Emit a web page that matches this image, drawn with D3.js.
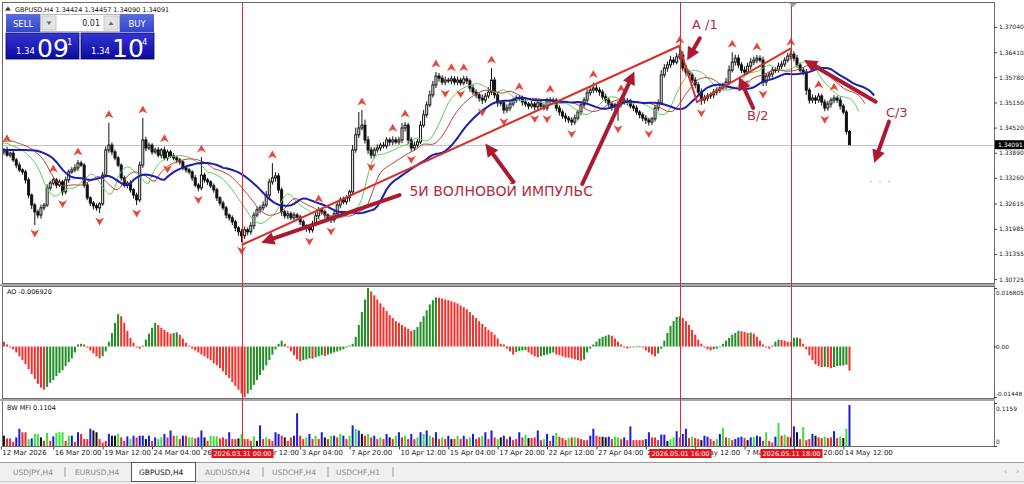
<!DOCTYPE html>
<html>
<head>
<meta charset="utf-8">
<script src="https://cdn.jsdelivr.net/npm/d3@7"></script>
<style>
  html, body { margin: 0; padding: 0; background: #fff; overflow: hidden; }
  svg { display: block; }
  text { font-family: "DejaVu Sans", sans-serif; }
</style>
</head>
<body>
<svg id="chart" width="1024" height="484"></svg>
<script>
(function() {

  // ---- data ----
  var symbol = "GBPUSD,H4";
  var firstOpen = 1.3393;
  var closes = [
    1.3391,1.3396,1.3383,1.3388,1.3371,1.3358,1.3346,1.3341,1.3321,1.3283,
    1.3258,1.3241,1.3233,1.3251,1.3258,1.3301,1.3313,1.3321,1.3308,1.3316,
    1.3291,1.3321,1.3341,1.3346,1.3351,1.3363,1.3358,1.3308,1.3276,1.3263,
    1.3256,1.3251,1.3261,1.3333,1.3396,1.3408,1.3391,1.3376,1.3358,1.3326,
    1.3308,1.3313,1.3296,1.3283,1.3271,1.3358,1.3421,1.3401,1.3408,1.3391,
    1.3396,1.3383,1.3396,1.3376,1.3391,1.3381,1.3376,1.3371,1.3366,1.3351,
    1.3346,1.3341,1.3326,1.3308,1.3301,1.3333,1.3321,1.3316,1.3306,1.3296,
    1.3276,1.3263,1.3251,1.3233,1.3226,1.3216,1.3201,1.3191,1.3181,1.3196,
    1.3191,1.3206,1.3233,1.3246,1.3251,1.3258,1.3283,1.3316,1.3326,1.3331,
    1.3296,1.3241,1.3231,1.3236,1.3226,1.3233,1.3228,1.3216,1.3206,1.3201,
    1.3196,1.3211,1.3231,1.3246,1.3241,1.3233,1.3226,1.3221,1.3236,1.3258,
    1.3271,1.3266,1.3276,1.3291,1.3396,1.3434,1.3451,1.3458,1.3421,1.3396,
    1.3383,1.3396,1.3401,1.3408,1.3406,1.3421,1.3416,1.3421,1.3416,1.3421,
    1.3451,1.3458,1.3421,1.3401,1.3408,1.3416,1.3458,1.3484,1.3509,1.3534,
    1.3559,1.3581,1.3576,1.3566,1.3571,1.3569,1.3574,1.3566,1.3571,1.3564,
    1.3574,1.3569,1.3551,1.3541,1.3534,1.3526,1.3521,1.3531,1.3541,1.3571,
    1.3534,1.3514,1.3514,1.3496,1.3501,1.3511,1.3521,1.3526,1.3526,1.3516,
    1.3511,1.3506,1.3511,1.3504,1.3514,1.3506,1.3501,1.3519,1.3521,1.3521,
    1.3501,1.3491,1.3481,1.3476,1.3471,1.3466,1.3476,1.3491,1.3509,1.3521,
    1.3539,1.3546,1.3551,1.3546,1.3541,1.3529,1.3521,1.3511,1.3504,1.3509,
    1.3511,1.3521,1.3516,1.3519,1.3506,1.3501,1.3491,1.3484,1.3476,1.3471,
    1.3466,1.3474,1.3501,1.3514,1.3584,1.3601,1.3609,1.3621,1.3616,1.3629,
    1.3634,1.3601,1.3591,1.3584,1.3571,1.3559,1.3541,1.3521,1.3526,1.3531,
    1.3534,1.3541,1.3546,1.3551,1.3556,1.3566,1.3596,1.3616,1.3626,1.3609,
    1.3596,1.3591,1.3606,1.3616,1.3621,1.3626,1.3621,1.3566,1.3581,1.3586,
    1.3596,1.3596,1.3606,1.3611,1.3621,1.3631,1.3636,1.3626,1.3609,1.3596,
    1.3591,1.3546,1.3521,1.3526,1.3521,1.3531,1.3516,1.3501,1.3511,1.3521,
    1.3526,1.3521,1.3506,1.3491,1.34424,1.34091
  ];
  // wick lengths in pips above / below the body
  var wickUp = [
    6,5,8,4,6,5,7,4,5,6, 4,5,6,8,5,9,6,7,5,6, 5,8,6,7,9,8,6,5,7,4, 5,6,4,8,9,56,7,6,5,4,
    6,5,7,4,6,9,55,8,7,5, 6,7,5,8,6,5,7,6,5,4, 6,5,4,7,5,45,6,5,4,6, 5,4,6,5,4,6,5,4,7,8,
    6,9,7,8,6,9,10,8,37,9, 7,6,5,8,6,7,5,6,5,4, 6,8,9,7,5,6,4,7,8,9, 7,8,6,5,12,18,40,38,14,9,
    8,7,9,6,8,7,6,9,7,8, 12,8,6,7,9,8,10,12,9,11, 10,10,8,7,9,6,8,7,9,6, 8,7,6,8,7,6,9,8,12,30,
    7,8,6,7,9,8,6,7,8,6, 7,5,8,6,7,9,6,8,7,6, 5,7,6,8,5,7,9,6,8,7, 9,10,14,8,7,6,8,7,6,5,
    7,8,6,7,5,6,7,5,6,7, 6,5,8,9,12,10,9,11,8,10, 17,9,8,7,6,8,7,9,8,7, 6,8,7,9,8,10,12,25,9,8,
    7,9,8,10,9,8,7,9,8,6, 8,7,9,8,7,8,10,7,8,6, 7,8,6,9,7,8,6,7,8,6, 7,6,8,6,5,3.3
  ];
  var wickDn = [
    5,7,4,6,5,8,6,7,9,8, 10,33,8,9,6,5,7,6,8,5, 9,6,7,5,6,8,5,7,6,8, 9,7,13,5,6,7,8,6,5,7,
    6,8,7,9,13,6,7,8,6,7, 5,6,8,6,7,5,6,8,7,6, 7,6,8,5,9,6,7,8,6,7, 8,7,6,9,7,8,9,10,16,8,
    9,7,8,6,9,7,6,8,7,9, 8,10,7,8,6,9,7,8,9,10, 8,7,6,8,7,9,6,8,7,6, 8,6,7,9,6,7,8,6,9,10,
    9,8,7,8,6,7,9,8,6,7, 8,9,10,8,7,6,5,6,7,6, 7,8,9,7,8,6,9,7,8,7, 6,8,9,7,8,9,10,7,6,8,
    9,10,8,9,7,8,6,7,8,9, 7,8,6,9,7,8,6,7,8,7, 8,9,7,10,8,9,7,6,8,7, 6,7,8,6,9,7,8,9,10,12,
    40,8,7,9,6,8,7,9,8,10, 9,8,7,8,6,7,9,8,7,6, 7,8,9,7,8,9,8,12,9,8, 7,9,8,7,6,8,7,6,9,8,
    7,8,6,9,7,8,6,10,9,7, 8,7,6,8,7,6,9,8,7,6, 8,12,9,8,10,7,9,8,7,9, 8,7,9,6,8,0.1
  ];
  var ao = [
    0.0017,0.0014,0.0006,-0.0003,-0.0008,-0.0017,-0.0028,-0.0039,-0.0051,-0.0065,
    -0.0079,-0.0093,-0.0107,-0.0118,-0.0124,-0.0116,-0.0104,-0.0096,-0.0085,-0.0076,
    -0.0068,-0.0056,-0.0045,-0.0034,-0.0017,0.0006,0.0008,0.0006,-0.0003,-0.0011,
    -0.0020,-0.0028,-0.0034,-0.0028,-0.0014,0.0014,0.0039,0.0068,0.0093,0.0087,
    0.0068,0.0045,0.0025,0.0011,-0.0003,-0.0006,0.0003,0.0020,0.0037,0.0054,
    0.0068,0.0062,0.0054,0.0048,0.0042,0.0037,0.0039,0.0041,0.0034,0.0023,
    0.0011,0.0003,-0.0006,-0.0011,-0.0017,-0.0023,-0.0028,-0.0034,-0.0039,-0.0048,
    -0.0054,-0.0062,-0.0071,-0.0082,-0.0090,-0.0102,-0.0113,-0.0124,-0.0135,-0.01448,
    -0.0135,-0.0124,-0.0110,-0.0096,-0.0082,-0.0068,-0.0054,-0.0039,-0.0023,-0.0008,
    0.0008,0.0017,0.0008,-0.0003,-0.0014,-0.0025,-0.0037,-0.0042,-0.0039,-0.0037,
    -0.0034,-0.0035,-0.0031,-0.0028,-0.0025,-0.0027,-0.0023,-0.0020,-0.0017,-0.0014,
    -0.0011,-0.0008,-0.0003,0.0003,0.0008,0.0028,0.0062,0.0099,0.0135,0.016805,
    0.0158,0.0147,0.0135,0.0124,0.0113,0.0102,0.0090,0.0082,0.0073,0.0068,
    0.0062,0.0056,0.0051,0.0045,0.0048,0.0056,0.0071,0.0087,0.0104,0.0121,
    0.0133,0.0141,0.0140,0.0138,0.0135,0.0133,0.0130,0.0127,0.0124,0.0118,
    0.0113,0.0107,0.0099,0.0090,0.0082,0.0073,0.0065,0.0056,0.0048,0.0042,
    0.0034,0.0023,0.0008,0.0006,-0.0006,-0.0014,-0.0023,-0.0016,-0.0013,-0.0011,
    -0.0010,-0.0017,-0.0023,-0.0028,-0.0031,-0.0028,-0.0025,-0.0023,-0.0020,-0.0017,
    -0.0023,-0.0025,-0.0028,-0.0031,-0.0032,-0.0034,-0.0037,-0.0039,-0.0041,-0.0037,
    -0.0017,-0.0006,0.0006,0.0014,0.0023,0.0028,0.0031,0.0034,0.0031,0.0023,
    0.0014,0.0006,-0.0003,-0.0006,-0.0003,-0.0001,0.0000,0.0001,-0.0003,-0.0011,
    -0.0017,-0.0023,-0.0028,-0.0020,-0.0006,0.0017,0.0039,0.0059,0.0073,0.0085,
    0.0087,0.0082,0.0073,0.0062,0.0048,0.0034,0.0020,0.0008,-0.0003,-0.0008,
    -0.0011,-0.0008,-0.0006,0.0000,0.0008,0.0017,0.0025,0.0034,0.0039,0.0045,
    0.0044,0.0042,0.0039,0.0040,0.0037,0.0028,0.0017,0.0006,-0.0003,-0.0006,
    0.0003,0.0014,0.0020,0.0019,0.0017,0.0014,0.0013,0.0025,0.0026,0.0023,
    0.0008,-0.0008,-0.0025,-0.0039,-0.0051,-0.0056,-0.0059,-0.0058,-0.0059,-0.0062,
    -0.0059,-0.0056,-0.0055,-0.0054,-0.0052,-0.00692
  ];
  var mfi = [
    .0232,.0278,.0204,.0204,.0111,.0232,.0464,.0371,.0371,.0186,
    .0204,.0325,.0325,.0232,.0139,.0353,.0139,.0260,.0353,.0371,
    .0371,.0139,.0278,.0278,.0111,.0371,.0325,.0186,.0186,.0464,
    .0418,.0371,.0186,.0093,.0139,.0325,.0278,.0278,.0325,.0232,
    .0139,.0260,.0186,.0278,.0232,.0278,.0278,.0186,.0278,.0139,
    .0232,.0186,.0232,.0325,.0232,.0418,.0278,.0278,.0186,.0278,
    .0278,.0232,.0232,.0204,.0232,.0418,.0232,.0139,.0278,.0260,
    .0260,.0204,.0232,.0186,.0371,.0186,.0186,.0204,.0325,.0186,
    .0186,.0139,.0260,.0139,.0557,.0186,.0232,.0186,.0139,.0371,
    .0325,.0278,.0232,.0139,.0232,.0278,.0882,.0278,.0186,.0232,
    .0325,.0186,.0278,.0186,.0371,.0232,.0186,.0278,.0278,.0232,
    .0325,.0278,.0186,.0278,.0557,.0464,.0418,.0325,.0278,.0325,
    .0232,.0278,.0186,.0232,.0186,.0325,.0232,.0186,.0278,.0371,
    .0232,.0278,.0186,.0325,.0186,.0232,.0371,.0325,.0418,.0278,
    .0232,.0371,.0186,.0232,.0186,.0278,.0186,.0186,.0278,.0186,
    .0278,.0186,.0232,.0325,.0186,.0232,.0278,.0371,.0186,.0418,
    .0232,.0186,.0232,.0278,.0186,.0251,.0158,.0186,.0371,.0232,
    .0306,.0213,.0213,.0232,.0418,.0158,.0186,.0325,.0139,.0278,
    .0353,.0251,.0213,.0158,.0213,.0232,.0232,.0213,.0186,.0158,
    .0158,.0278,.0464,.0278,.0251,.0251,.0232,.0251,.0186,.0251,
    .0232,.0186,.0232,.0158,.0529,.0158,.0158,.0158,.0158,.0186,
    .0371,.0232,.0232,.0158,.0306,.0306,.0139,.0186,.0232,.0399,
    .0232,.0325,.0464,.0213,.0251,.0213,.0186,.0158,.0278,.0251,
    .0186,.0139,.0186,.0325,.0492,.0232,.0213,.0158,.0186,.0232,
    .0251,.0213,.0158,.0232,.0251,.0278,.0251,.0139,.0371,.0139,
    .0093,.0251,.0622,.0278,.0306,.0251,.0232,.0529,.0371,.0186,
    .0510,.0158,.0186,.0325,.0278,.0232,.0213,.0251,.0213,.0232,
    .0399,.0213,.0251,.0213,.0464,.1104
  ];
  // g = up/up, b = mfi up vol down, r = down/down, k = mfi down vol up
  var mfiColor = ("kkrrrbbrrg bggkrgrbgg grgbrbrrrb kkrrrbkkgr rbgbrbbkbr bggbrbrgrb rggrbbkrgg grrrbrrkgr " +
    "rrgkbrgrrb brkrrbbrrg brgrbkrgbr gbrgbgbkrg rbrgrbkrgb rgrbrgbgbg rbrgrbkrgr brgbrrgbrb rg " +
    "kbrbrrbrgk rrbrgbrbgr rrgrgrrrrb brrkkbrggr brbrrrrbbr rrbbkggbrb brgrrkbbrr gbgrgrbbbr " +
    "kbgbbrgrrb grgrkbkrgr rbkrrgrrbr gkgb").replace(/ /g, "").split("");

  var priceTicks = [1.37040, 1.36410, 1.35780, 1.35150, 1.34520, 1.33890, 1.33260, 1.32615, 1.31985, 1.31355, 1.30725];
  var aoTicks = [[0.016805, "0.016805", 4], [0, "0.00", 0], [-0.01448, "-0.01448", -4]];
  var mfiTicks = [[0.1159, "0.1159", 5], [0, "0", -5]];
  var timeTicks = [
    [0, "12 Mar 2026"], [17, "16 Mar 20:00"], [33, "19 Mar 12:00"], [49, "24 Mar 04:00"],
    [65, "26 Mar 20:00"], [81, "31 Mar 12:00"], [97, "3 Apr 04:00"], [113, "7 Apr 20:00"],
    [129, "10 Apr 12:00"], [145, "15 Apr 04:00"], [161, "17 Apr 20:00"], [177, "22 Apr 12:00"],
    [193, "27 Apr 04:00"], [209, "29 Apr 20:00"], [225, "4 May 12:00"], [241, "7 May 04:00"],
    [257, "11 May 20:00"], [273, "14 May 12:00"]
  ];
  var vLines = [[78, "2026.03.31 00:00"], [220, "2026.05.01 16:00"], [256, "2026.05.11 18:00"]];
  var seedJaw = 1.3396, seedTeeth = 1.3418, seedLips = 1.3413;
  var tabs = ["USDJPY,H4", "EURUSD,H4", "GBPUSD,H4", "AUDUSD,H4", "USDCHF,H4", "USDCHF,H1"];

  // hand drawn objects, in (bar index, price)
  var zigzag = [[78.0, 1.31579], [219.8, 1.36564], [225.6, 1.35161], [256.0, 1.36506]];
  var arrows = [
    [[129.2, 1.32831], [84.4, 1.31637]],
    [[166.1, 1.33157], [157.0, 1.34122]],
    [[188.4, 1.33107], [205.3, 1.35925]],
    [[226.5, 1.36757], [222.4, 1.36206]],
    [[243.8, 1.35011], [239.2, 1.35787]],
    [[283.5, 1.35168], [260.3, 1.36213]],
    [[287.8, 1.34668], [283.0, 1.33633]]
  ];
  var notes = [
    ["5И ВОЛНОВОЙ ИМПУЛЬС", 132.4, 1.32806, 14],
    ["A /1", 224.0, 1.37002, 13],
    ["B/2", 241.8, 1.34710, 13],
    ["C/3", 286.8, 1.34785, 13]
  ];

  // ---- layout ----
  var PIP = 0.0001;
  var L = 3, R = 994;
  var P = {top: 3, bot: 283}, A = {top: 287, bot: 398}, M = {top: 401, bot: 446};

  var svg = d3.select("#chart");
  var x = d3.scaleLinear().domain([0, 273]).range([0.84, 843.3]);
  var yP = d3.scaleLinear().domain([1.30627, 1.37641]).range([P.bot, P.top]);
  var yA = d3.scaleLinear().domain([-0.01448, 0.016805]).range([A.bot - 1, A.top + 1]);
  var yM = d3.scaleLinear().domain([0, 0.1159]).range([M.bot, M.top + 2]);

  var bars = closes.map((c, i) => {
    var o = i ? closes[i - 1] : firstOpen;
    return {i: i, o: o, c: c, h: Math.max(o, c) + wickUp[i] * PIP, l: Math.min(o, c) - wickDn[i] * PIP};
  });

  var defs = svg.append("defs");
  [["clipP", P], ["clipA", A], ["clipM", M]].forEach(([id, p]) => {
    defs.append("clipPath").attr("id", id).append("rect")
      .attr("x", L).attr("y", p.top).attr("width", R - L).attr("height", p.bot - p.top);
  });
  var gr = defs.append("linearGradient").attr("id", "boxGrad").attr("x1", 0).attr("y1", 0).attr("x2", 0).attr("y2", 1);
  gr.append("stop").attr("offset", "0%").attr("stop-color", "#3434d6");
  gr.append("stop").attr("offset", "100%").attr("stop-color", "#0a0a9e");
  var gb = defs.append("linearGradient").attr("id", "btnGrad").attr("x1", 0).attr("y1", 0).attr("x2", 0).attr("y2", 1);
  gb.append("stop").attr("offset", "0%").attr("stop-color", "#5a6ce0");
  gb.append("stop").attr("offset", "100%").attr("stop-color", "#3347c8");

  // panel frames
  svg.append("rect").attr("width", 1024).attr("height", 484).attr("fill", "#fff");
  [P, A, M].forEach(p => {
    svg.append("rect").attr("x", L - 0.5).attr("y", p.top - 0.5).attr("width", R - L + 1).attr("height", p.bot - p.top + 1)
      .attr("fill", "#fff").attr("stroke", "#6b6b6b");
  });
  svg.append("rect").attr("x", 0).attr("y", P.bot + 1).attr("width", R + 1).attr("height", 2).attr("fill", "#a8a8a8");
  svg.append("rect").attr("x", 0).attr("y", A.bot + 1).attr("width", R + 1).attr("height", 2).attr("fill", "#a8a8a8");

  // bid line
  var bidY = Math.round(yP(closes[closes.length - 1])) + 0.5;
  svg.append("line").attr("x1", L).attr("x2", R).attr("y1", bidY).attr("y2", bidY).attr("stroke", "#c4c4c4");

  // ---- candles ----
  var gc = svg.append("g").attr("clip-path", "url(#clipP)");
  gc.append("g").selectAll("line").data(bars).join("line")
    .attr("x1", d => x(d.i)).attr("x2", d => x(d.i))
    .attr("y1", d => yP(d.h)).attr("y2", d => yP(d.l))
    .attr("stroke", "#111");
  gc.append("g").selectAll("rect").data(bars).join("rect")
    .attr("x", d => x(d.i) - 1).attr("width", 2)
    .attr("y", d => yP(Math.max(d.o, d.c)))
    .attr("height", d => Math.max(0.5, Math.abs(yP(d.o) - yP(d.c))))
    .attr("fill", d => d.c >= d.o ? "#fff" : "#111")
    .attr("stroke", "#111").attr("stroke-width", 1);

  // ---- alligator ----
  var med = bars.map(b => (b.h + b.l) / 2);
  function alligator(n, shift, seed) {
    var s = seed;
    var sm = med.map(v => (s = (s * (n - 1) + v) / n));
    return d3.range(bars.length + shift).map(i => ({i: i, v: i < shift ? seed : sm[i - shift]}));
  }
  var line = d3.line().x(d => x(d.i)).y(d => yP(d.v));
  gc.append("path").datum(alligator(5, 3, seedLips)).attr("d", line).attr("fill", "none").attr("stroke", "#5fcf55").attr("stroke-width", 1);
  gc.append("path").datum(alligator(8, 5, seedTeeth)).attr("d", line).attr("fill", "none").attr("stroke", "#b8443a").attr("stroke-width", 1);
  gc.append("path").datum(alligator(13, 8, seedJaw)).attr("d", line).attr("fill", "none").attr("stroke", "#1a1fb0").attr("stroke-width", 2);

  // ---- fractals ----
  var frUp = [], frDn = [];
  for (var i = 2; i < bars.length - 2; i++) {
    var b = bars[i];
    if (b.h > bars[i - 1].h && b.h > bars[i - 2].h && b.h >= bars[i + 1].h && b.h >= bars[i + 2].h) frUp.push(b);
    if (b.l < bars[i - 1].l && b.l < bars[i - 2].l && b.l <= bars[i + 1].l && b.l <= bars[i + 2].l) frDn.push(b);
  }
  gc.append("g").selectAll("path").data(frUp).join("path")
    .attr("d", "M0,-4.5L4.5,3.5L0,1.2L-4.5,3.5Z")
    .attr("transform", d => `translate(${x(d.i)},${yP(d.h) - 8})`)
    .attr("fill", "#e5483a");
  gc.append("g").selectAll("path").data(frDn).join("path")
    .attr("d", "M0,4.5L4.5,-3.5L0,-1.2L-4.5,-3.5Z")
    .attr("transform", d => `translate(${x(d.i)},${yP(d.l) + 8})`)
    .attr("fill", "#e5483a");

  // ---- AO ----
  var col = "r";
  var aoCol = ao.map((v, i) => {
    if (i > 0) { if (v > ao[i - 1]) col = "g"; else if (v < ao[i - 1]) col = "r"; }
    return col;
  });
  svg.append("g").attr("clip-path", "url(#clipA)").selectAll("rect").data(ao).join("rect")
    .attr("x", (d, i) => x(i) - 1).attr("width", 2)
    .attr("y", d => Math.min(yA(0), yA(d)))
    .attr("height", d => Math.max(0.8, Math.abs(yA(d) - yA(0))))
    .attr("fill", (d, i) => aoCol[i] === "g" ? "#1f8f24" : "#f2302c");

  // ---- BW MFI ----
  var mcols = {g: "#3ae23a", b: "#1c1cd6", r: "#ee2a2a", k: "#111111"};
  svg.append("g").attr("clip-path", "url(#clipM)").selectAll("rect").data(mfi).join("rect")
    .attr("x", (d, i) => x(i) - 1).attr("width", 2)
    .attr("y", d => yM(d)).attr("height", d => yM(0) - yM(d))
    .attr("fill", (d, i) => mcols[mfiColor[i]]);

  // ---- trend objects ----
  var gz = svg.append("g").attr("clip-path", "url(#clipP)");
  gz.append("path").datum(zigzag).attr("d", d3.line().x(d => x(d[0])).y(d => yP(d[1])))
    .attr("fill", "none").attr("stroke", "#d8302a").attr("stroke-width", 2);

  vLines.forEach(([i]) => {
    var vx = Math.round(x(i)) + 0.5;
    svg.append("line").attr("x1", vx).attr("x2", vx).attr("y1", P.top).attr("y2", M.bot)
      .attr("stroke", "#d03030").attr("stroke-width", 1);
  });

  // ---- right axes ----
  function styleAxis(dx) {
    return function(g) {
      g.select(".domain").remove();
      g.selectAll("line").attr("stroke", "#444");
      g.selectAll("text").attr("x", dx).attr("font-size", 6).attr("font-family", "DejaVu Sans").attr("fill", "#222");
    };
  }
  svg.append("g").attr("transform", `translate(${R},0)`)
    .call(d3.axisRight(yP).tickValues(priceTicks).tickSize(3).tickFormat(d => d.toFixed(5)))
    .call(styleAxis(5));
  var ga = svg.append("g").attr("transform", `translate(${R},0)`)
    .call(d3.axisRight(yA).tickValues(aoTicks.map(t => t[0])).tickSize(3).tickFormat((d, i) => aoTicks[i][1]))
    .call(styleAxis(2));
  ga.selectAll("text").attr("font-size", 5.8).attr("dy", (d, i) => (aoTicks[i][2] + 2) + "px");
  var gm = svg.append("g").attr("transform", `translate(${R},0)`)
    .call(d3.axisRight(yM).tickValues(mfiTicks.map(t => t[0])).tickSize(3).tickFormat((d, i) => mfiTicks[i][1]))
    .call(styleAxis(2));
  gm.selectAll("text").attr("dy", (d, i) => (mfiTicks[i][2] + 2) + "px");

  var last = bars[bars.length - 1];
  svg.append("rect").attr("x", R + 1).attr("y", yP(last.c) - 4.5).attr("width", 30).attr("height", 9).attr("fill", "#000");
  svg.append("text").attr("x", R + 4).attr("y", yP(last.c) + 2.2).attr("font-size", 6).attr("fill", "#fff").text(last.c.toFixed(5));

  // ---- time axis ----
  var gt = svg.append("g").attr("transform", `translate(0,${M.bot + 0.5})`)
    .call(d3.axisBottom(x).tickValues(timeTicks.map(t => t[0])).tickSize(3).tickFormat((d, i) => timeTicks[i][1]));
  gt.select(".domain").remove();
  gt.selectAll("line").attr("stroke", "#444");
  gt.selectAll("text").attr("text-anchor", "start").attr("x", 1).attr("y", 4).attr("font-size", 7)
    .attr("font-family", "DejaVu Sans").attr("fill", "#222");
  vLines.forEach(([i, lab]) => {
    var vx = Math.round(x(i)) + 0.5;
    svg.append("rect").attr("x", vx - 31).attr("y", M.bot + 3).attr("width", 62).attr("height", 9).attr("fill", "#e3151b");
    svg.append("text").attr("x", vx).attr("y", M.bot + 10).attr("text-anchor", "middle")
      .attr("font-size", 6.5).attr("fill", "#fff").text(lab);
  });

  // chart shift marker
  svg.append("path").attr("d", "M789,3L797,3L793,7Z").attr("fill", "#9a9a9a");

  // ---- hand drawn arrows and words ----
  var AR = "#ab1a30";
  function arrow(a, b) {
    var x1 = x(a[0]), y1 = yP(a[1]), x2 = x(b[0]), y2 = yP(b[1]);
    var ang = Math.atan2(y2 - y1, x2 - x1), hl = 13, hw = 6.5;
    var bx = x2 - hl * Math.cos(ang), by = y2 - hl * Math.sin(ang);
    svg.append("line").attr("x1", x1).attr("y1", y1).attr("x2", bx).attr("y2", by)
      .attr("stroke", AR).attr("stroke-width", 4).attr("stroke-linecap", "round");
    svg.append("path").attr("fill", AR)
      .attr("d", `M${x2},${y2}L${bx - hw * Math.sin(ang)},${by + hw * Math.cos(ang)}L${bx + hw * Math.sin(ang)},${by - hw * Math.cos(ang)}Z`);
  }
  arrows.forEach(a => arrow(a[0], a[1]));
  notes.forEach(([t, i, p, s]) => {
    svg.append("text").attr("x", x(i)).attr("y", yP(p)).attr("font-size", s)
      .attr("font-family", "Liberation Sans, Arial, sans-serif").attr("fill", "#b42c3c").text(t);
  });
  svg.append("text").attr("x", x(281.6)).attr("y", yP(1.33157)).attr("font-size", 9)
    .attr("fill", "#777").attr("letter-spacing", "1.5px").text(". . .");

  // ---- indicator captions ----
  svg.append("text").attr("x", 7).attr("y", A.top + 7).attr("font-size", 6.5).attr("fill", "#111")
    .text("AO " + ao[ao.length - 1].toFixed(6));
  svg.append("text").attr("x", 7).attr("y", M.top + 9).attr("font-size", 6.5).attr("fill", "#111")
    .text("BW MFI " + mfi[mfi.length - 1].toFixed(4));

  // ---- header and one-click panel ----
  svg.append("path").attr("d", "M5,10.5L8,6.5L11,10.5Z").attr("fill", "#333");
  svg.append("text").attr("x", 15).attr("y", 11.5).attr("font-size", 6.5).attr("fill", "#111")
    .text(symbol + " " + [last.o, last.h, last.l, last.c].map(v => v.toFixed(5)).join(" "));

  var bid = last.c, ask = 1.34104;
  function btn(x0, label) {
    svg.append("rect").attr("x", x0).attr("y", 14).attr("width", 34).attr("height", 18).attr("fill", "url(#btnGrad)");
    svg.append("text").attr("x", x0 + 17).attr("y", 26.5).attr("text-anchor", "middle").attr("font-size", 8.5)
      .attr("font-family", "Liberation Sans, Arial, sans-serif").attr("fill", "#fff").text(label);
  }
  btn(6, "SELL");
  btn(120, "BUY");
  svg.append("rect").attr("x", 40.5).attr("y", 14.5).attr("width", 79).attr("height", 17).attr("fill", "#fff").attr("stroke", "#b8b8b8");
  [42, 104].forEach((bx0, k) => {
    svg.append("rect").attr("x", bx0).attr("y", 16).attr("width", 14).attr("height", 14).attr("fill", "#e4e4e4").attr("stroke", "#c8c8c8");
    svg.append("path").attr("d", k ? `M${bx0 + 4.5},25L${bx0 + 9.5},25L${bx0 + 7},21.5Z` : `M${bx0 + 4.5},21.5L${bx0 + 9.5},21.5L${bx0 + 7},25Z`).attr("fill", "#666");
  });
  svg.append("text").attr("x", 100).attr("y", 26).attr("text-anchor", "end").attr("font-size", 8)
    .attr("font-family", "Liberation Sans, Arial, sans-serif").attr("fill", "#222").text("0.01");

  function priceBox(x0, v) {
    var s = v.toFixed(5);
    svg.append("rect").attr("x", x0).attr("y", 33).attr("width", 73).attr("height", 26)
      .attr("fill", "url(#boxGrad)").attr("stroke", "#06065e").attr("stroke-width", 0.8);
    var t = svg.append("g").attr("font-family", "Liberation Sans, Arial, sans-serif").attr("fill", "#fff");
    t.append("text").attr("x", x0 + 10).attr("y", 54).attr("font-size", 8.5).text(s.slice(0, 4));
    t.append("text").attr("x", x0 + 31).attr("y", 57).attr("font-size", 25).text(s.slice(4, 6));
    t.append("text").attr("x", x0 + 61).attr("y", 44.5).attr("font-size", 8.5).text(s.slice(6));
  }
  priceBox(6, bid);
  priceBox(81, ask);

  // ---- symbol tabs ----
  svg.append("rect").attr("x", 0).attr("y", 462).attr("width", 1024).attr("height", 22).attr("fill", "#f0f0f0");
  svg.append("line").attr("x1", 0).attr("x2", 1024).attr("y1", 462.5).attr("y2", 462.5).attr("stroke", "#9a9a9a");
  svg.append("line").attr("x1", 0).attr("x2", 1024).attr("y1", 481.5).attr("y2", 481.5).attr("stroke", "#c4c4c4");
  svg.append("rect").attr("x", 131.5).attr("y", 462.5).attr("width", 64).attr("height", 19).attr("fill", "#fff").attr("stroke", "#555");
  var tabX = [13, 75, 139, 205, 272, 336], sepX = [65, 263, 328, 393];
  tabs.forEach((t, k) => {
    svg.append("text").attr("x", tabX[k]).attr("y", 475).attr("font-size", 7.5)
      .attr("fill", t === symbol ? "#111" : "#8c8c8c").text(t);
  });
  sepX.forEach(sx => svg.append("line").attr("x1", sx).attr("x2", sx).attr("y1", 467).attr("y2", 477).attr("stroke", "#9a9a9a"));
  svg.append("text").attr("x", 1004).attr("y", 474).attr("font-size", 8).attr("fill", "#aaa").text("‹");
  svg.append("text").attr("x", 1016).attr("y", 474).attr("font-size", 8).attr("fill", "#aaa").text("›");

})();
</script>
</body>
</html>
